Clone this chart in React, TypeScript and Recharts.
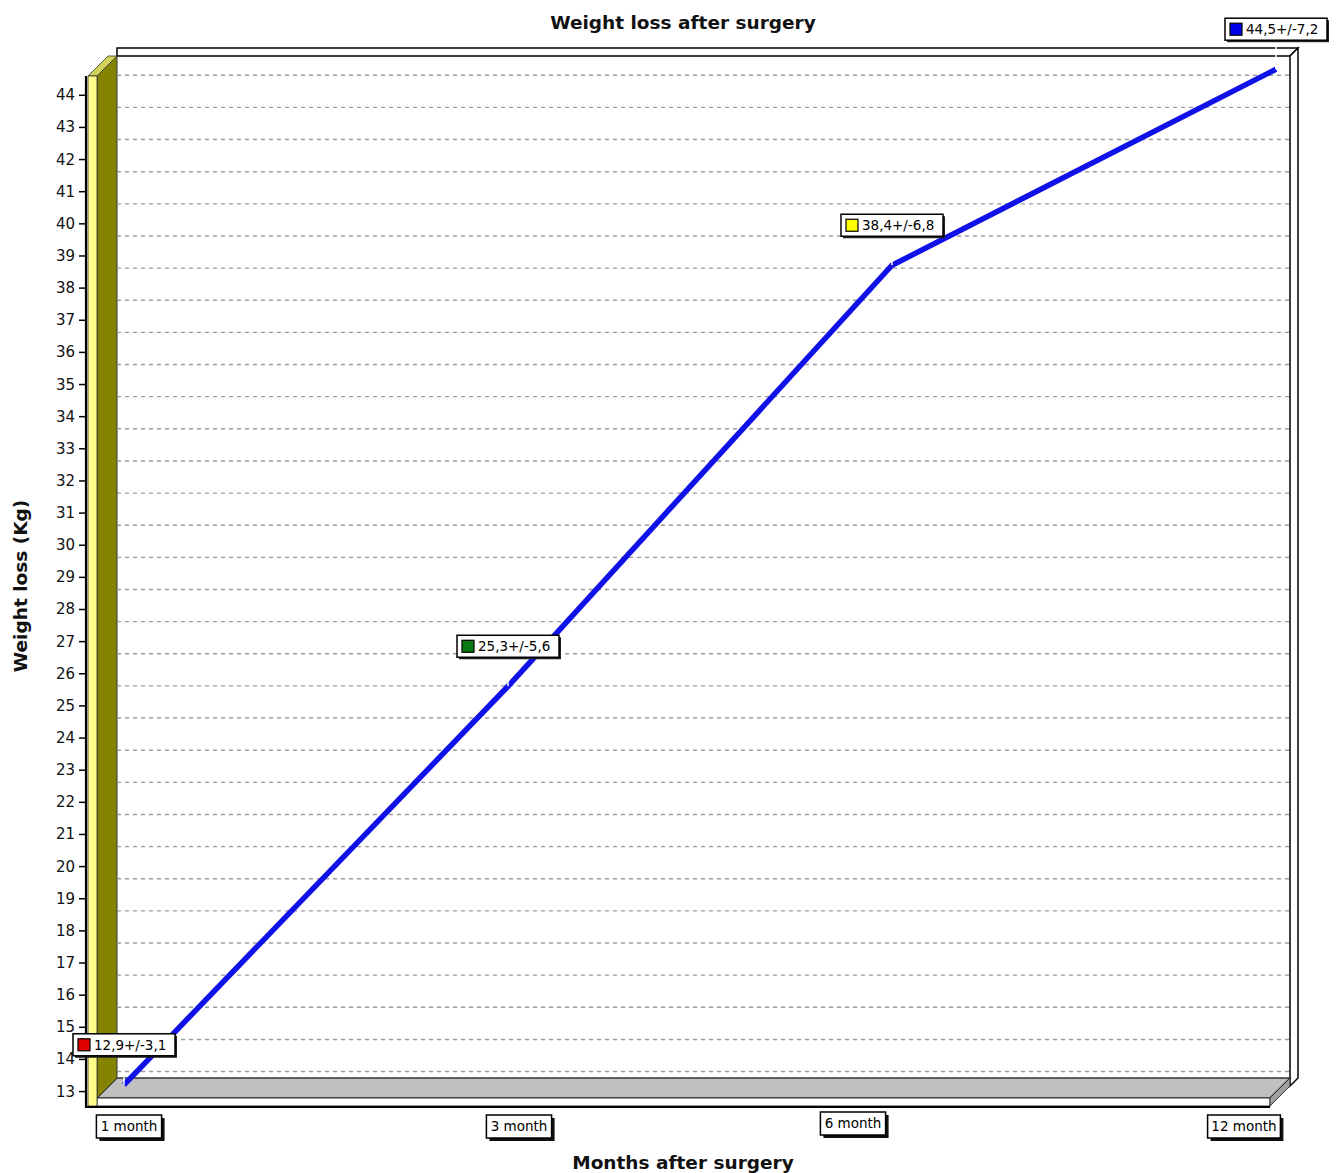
import React from 'react'
import { LineChart, Line, XAxis, YAxis, CartesianGrid } from 'recharts'

// values
const months = ['1 month', '3 month', '6 month', '12 month']
const meanLoss = [12.9, 25.3, 38.4, 44.5]
const sdLoss = [3.1, 5.6, 6.8, 7.2]
const tagColors = ['#e00000', '#0a7a10', '#ffff00', '#0000e8']
const yTicks = [
  13, 14, 15, 16, 17, 18, 19, 20, 21, 22, 23, 24, 25, 26, 27, 28, 29, 30, 31, 32,
  33, 34, 35, 36, 37, 38, 39, 40, 41, 42, 43, 44,
]

const data = months.map((m, i) => ({ month: m, mean: meanLoss[i], sd: sdLoss[i] }))

// layout (front face of the pseudo-3d box)
const W = 1336
const H = 1173
const PL = 97
const PR = 1270
const PT = 76
const PB = 1098
const D = 20
const YW = 60
const XH = 50
const FONT = '"DejaVu Sans", Verdana, sans-serif'
const Y_DOMAIN: [number, number] = [12.8, 44.6]
const X_PAD = { left: 17, right: 4 }

// the category boxes are not quite centred on the points in the original
const tickNudge = [
  { dx: 15, dy: 0 },
  { dx: 21, dy: 0 },
  { dx: -29, dy: -3 },
  { dx: -22, dy: 0 },
]

const fmt = (v: number) => v.toFixed(1).replace('.', ',')

const frontMargin = { left: PL - YW, right: W - PR, top: PT, bottom: H - PB - XH }
const bareMargin = { left: PL, right: W - PR, top: PT, bottom: H - PB }

function YTick(props: any) {
  const { y, payload } = props
  return (
    <g>
      <line x1={PL - 18} x2={PL - 11} y1={y} y2={y} stroke="#000" strokeWidth={1.5} />
      <text x={PL - 22} y={y} dy={5} textAnchor="end" fontSize={15} fontFamily={FONT} fill="#111">
        {payload.value}
      </text>
    </g>
  )
}

function XTick(props: any) {
  const { x, payload, index } = props
  const label = String(payload.value)
  const n = tickNudge[index] || { dx: 0, dy: 0 }
  const w = label.length * 7.6 + 12
  const cx = x + n.dx
  const top = PB + 17 + n.dy
  return (
    <g>
      <rect x={cx - w / 2 + 3} y={top + 3} width={w} height={23} fill="#111" />
      <rect x={cx - w / 2} y={top} width={w} height={23} fill="#fff" stroke="#000" strokeWidth={1.5} />
      <text x={cx} y={top + 16} textAnchor="middle" fontSize={13.5} fontFamily={FONT} fill="#000">
        {label}
      </text>
    </g>
  )
}

function DataTag(props: any) {
  const { x, y, index } = props
  if (x == null || y == null) return null
  const text = `${fmt(meanLoss[index])}+/-${fmt(sdLoss[index])}`
  const w = text.length * 7.2 + 30
  const left = x - w / 2
  const top = y - 51
  return (
    <g>
      <line x1={x} x2={x} y1={top + 22} y2={y} stroke="#fff" strokeWidth={1.5} />
      <rect x={left + 2} y={top + 2} width={w} height={22} fill="#222" />
      <rect x={left} y={top} width={w} height={22} fill="#fff" stroke="#000" strokeWidth={1.5} />
      <rect x={left + 5} y={top + 5} width={12} height={12} fill={tagColors[index]} stroke="#000" strokeWidth={1.2} />
      <text x={left + 21} y={top + 16} fontSize={13.5} fontFamily={FONT} fill="#000">
        {text}
      </text>
    </g>
  )
}

function Box3D() {
  const t = 8
  return (
    <svg width={W} height={H} style={{ position: 'absolute', left: 0, top: 0 }}>
      {/* back frame */}
      <polygon
        points={`${PL + D},${PT - D - t} ${PR + D + t},${PT - D - t} ${PR + D},${PT - D} ${PL + D},${PT - D}`}
        fill="#fff"
        stroke="#000"
        strokeWidth={1.5}
      />
      <polygon
        points={`${PR + D},${PT - D} ${PR + D + t},${PT - D - t} ${PR + D + t},${PB - D} ${PR + D},${PB - D + t}`}
        fill="#fff"
        stroke="#000"
        strokeWidth={1.5}
      />
      {/* floor */}
      <polygon
        points={`${PL},${PB} ${PR},${PB} ${PR + D},${PB - D} ${PL + D},${PB - D}`}
        fill="#c0c0c0"
        stroke="#333"
        strokeWidth={1.3}
      />
      <rect x={PL} y={PB} width={PR - PL} height={8} fill="#fff" stroke="#333" strokeWidth={1} />
      <polygon
        points={`${PR},${PB} ${PR + D},${PB - D} ${PR + D},${PB - D + 8} ${PR},${PB + 8}`}
        fill="#a0a0a0"
        stroke="#333"
        strokeWidth={1}
      />
      {/* left wall */}
      <polygon
        points={`${PL},${PT} ${PL + D},${PT - D} ${PL + D},${PB - D} ${PL},${PB}`}
        fill="#848400"
        stroke="#333"
        strokeWidth={1}
      />
      <polygon
        points={`${PL - 9},${PT} ${PL},${PT} ${PL + D},${PT - D} ${PL + D - 9},${PT - D}`}
        fill="#d2d25a"
        stroke="#333"
        strokeWidth={0.8}
      />
      <rect x={PL - 9} y={PT} width={9} height={PB + 8 - PT} fill="#ffff8a" stroke="#333" strokeWidth={0.8} />
      {/* front axis lines */}
      <line x1={PL - 11} x2={PL - 11} y1={PT} y2={PB + 10} stroke="#000" strokeWidth={2.2} />
      <line x1={PL - 12} x2={PR} y1={PB + 9} y2={PB + 9} stroke="#000" strokeWidth={2.2} />
    </svg>
  )
}

export default function App() {
  const layer = (dx: number, dy: number): React.CSSProperties => ({
    position: 'absolute',
    left: dx,
    top: dy,
  })

  return (
    <div style={{ position: 'absolute', left: 0, top: 0, width: W, height: H, background: '#fff' }}>
      <Box3D />

      {/* back wall grid */}
      <div style={layer(D, -D)}>
        <LineChart width={W} height={H} data={data} margin={bareMargin}>
          <XAxis dataKey="month" hide padding={X_PAD} />
          <YAxis type="number" domain={Y_DOMAIN} ticks={yTicks} hide allowDataOverflow />
          <CartesianGrid
            vertical={false}
            horizontalValues={yTicks}
            stroke="#9a9a9a"
            strokeWidth={1.4}
            strokeDasharray="4 4"
          />
        </LineChart>
      </div>

      {/* front axes */}
      <div style={layer(0, 0)}>
        <LineChart width={W} height={H} data={data} margin={frontMargin}>
          <XAxis
            dataKey="month"
            height={XH}
            padding={X_PAD}
            axisLine={false}
            tickLine={false}
            interval={0}
            tick={<XTick />}
          />
          <YAxis
            type="number"
            domain={Y_DOMAIN}
            ticks={yTicks}
            width={YW}
            axisLine={false}
            tickLine={false}
            interval={0}
            allowDataOverflow
            tick={<YTick />}
          />
        </LineChart>
      </div>

      {/* the series sits half way into the box */}
      <div style={layer(D / 2, -D / 2)}>
        <LineChart width={W} height={H} data={data} margin={bareMargin}>
          <XAxis dataKey="month" hide padding={X_PAD} />
          <YAxis type="number" domain={Y_DOMAIN} hide allowDataOverflow />
          <Line
            type="linear"
            dataKey="mean"
            stroke="#1010e8"
            strokeWidth={5.5}
            dot={false}
            isAnimationActive={false}
            label={(p: any) => <DataTag {...p} />}
          />
        </LineChart>
      </div>

      <svg width={W} height={H} style={{ position: 'absolute', left: 0, top: 0, pointerEvents: 'none' }}>
        <text x={683} y={29} textAnchor="middle" fontSize={18.5} fontWeight="bold" fontFamily={FONT} fill="#111">
          Weight loss after surgery
        </text>
        <text x={683} y={1169} textAnchor="middle" fontSize={18.5} fontWeight="bold" fontFamily={FONT} fill="#111">
          Months after surgery
        </text>
        <text
          x={27}
          y={586}
          transform="rotate(-90 27 586)"
          textAnchor="middle"
          fontSize={18.5}
          fontWeight="bold"
          fontFamily={FONT}
          fill="#111"
        >
          Weight loss (Kg)
        </text>
      </svg>
    </div>
  )
}
